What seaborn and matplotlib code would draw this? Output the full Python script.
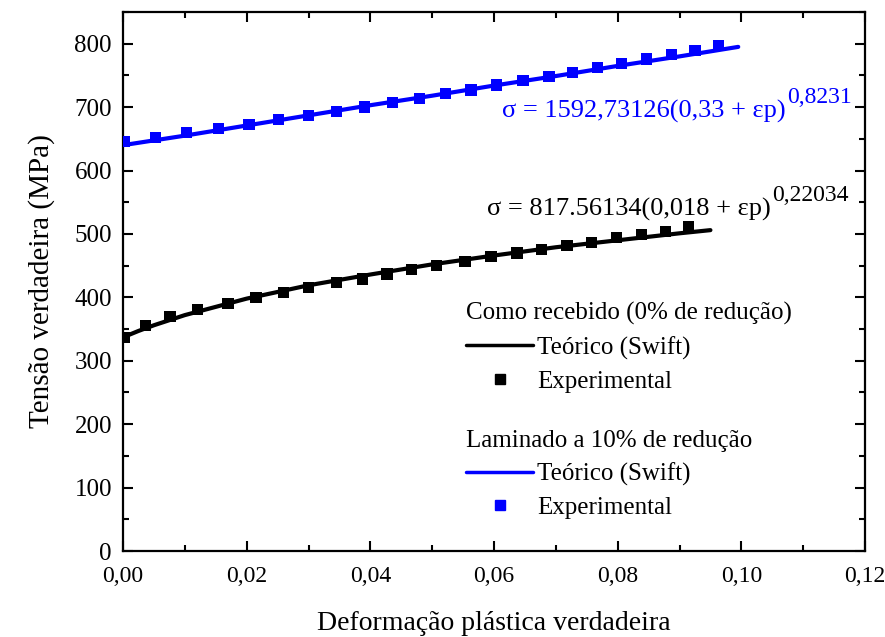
import matplotlib
matplotlib.use('Agg')
import matplotlib.pyplot as plt
import seaborn as sns
from matplotlib.lines import Line2D
from matplotlib.ticker import MultipleLocator, FuncFormatter

# ---- data ----
black_fit_x = [0.0, 0.0025, 0.005, 0.01, 0.015, 0.02, 0.03, 0.04, 0.05, 0.06, 0.07, 0.08, 0.09, 0.095]
black_fit_y = [337, 347, 356, 372, 385, 398, 419, 436, 452, 466, 479, 490, 501, 506]

black_exp_x = [0.0003, 0.0036, 0.0076, 0.0120, 0.0170, 0.0215, 0.0260, 0.0300, 0.0345, 0.0387,
               0.0427, 0.0467, 0.0507, 0.0553, 0.0595, 0.0637, 0.0677, 0.0718, 0.0758, 0.0798,
               0.0839, 0.0877, 0.0914]
black_exp_y = [337, 356, 370, 381, 390, 400, 408, 416, 423, 429,
               437, 444, 450, 457, 464, 470, 476, 482, 487, 494,
               499, 504, 511]

blue_fit_x = [0.0, 0.01, 0.02, 0.03, 0.04, 0.05, 0.06, 0.07, 0.08, 0.09, 0.0995]
blue_fit_y = [640, 655, 671, 687, 703, 718, 734, 749, 765, 780, 795]

blue_exp_x = [0.0003, 0.0052, 0.0103, 0.0154, 0.0204, 0.0252, 0.0300, 0.0345, 0.0391, 0.0436,
              0.0480, 0.0521, 0.0563, 0.0604, 0.0647, 0.0689, 0.0727, 0.0767, 0.0806, 0.0847,
              0.0887, 0.0925, 0.0963]
blue_exp_y = [646, 652, 660, 666, 673, 680, 687, 693, 700, 707,
              714, 721, 727, 735, 742, 748, 755, 762, 769, 776,
              783, 789, 797]

x_label = 'Deformação plástica verdadeira'
y_label = 'Tensão verdadeira (MPa)'
group1 = 'Como recebido (0% de redução)'
group2 = 'Laminado a 10% de redução'
lbl_fit = 'Teórico (Swift)'
lbl_exp = 'Experimental'
eq_black = 'σ = 817.56134(0,018 + εp)'
eq_black_exp = '0,22034'
eq_blue = 'σ = 1592,73126(0,33 + εp)'
eq_blue_exp = '0,8231'

BLUE = '#0000ff'

sns.set_theme(style='ticks')
plt.rcParams['font.family'] = ['Liberation Serif', 'DejaVu Serif']
plt.rcParams['axes.edgecolor'] = 'black'
plt.rcParams['text.color'] = 'black'
plt.rcParams['axes.labelcolor'] = 'black'

fig = plt.figure(figsize=(8.85, 6.37), dpi=100)
ax = fig.add_axes([123 / 885, 86 / 637, 742 / 885, 539 / 637])

sns.lineplot(x=black_fit_x, y=black_fit_y, color='black', lw=3, ax=ax, zorder=2)
sns.scatterplot(x=black_exp_x, y=black_exp_y, marker='s', s=66, color='black',
                edgecolor='none', ax=ax, zorder=3)
sns.lineplot(x=blue_fit_x, y=blue_fit_y, color=BLUE, lw=3, ax=ax, zorder=2)
sns.scatterplot(x=blue_exp_x, y=blue_exp_y, marker='s', s=66, color=BLUE,
                edgecolor='none', ax=ax, zorder=3)

ax.set_xlim(0, 0.12)
ax.set_ylim(0, 850)
ax.xaxis.set_major_locator(MultipleLocator(0.02))
ax.xaxis.set_minor_locator(MultipleLocator(0.01))
ax.yaxis.set_major_locator(MultipleLocator(100))
ax.yaxis.set_minor_locator(MultipleLocator(50))
ax.xaxis.set_major_formatter(FuncFormatter(lambda v, p: f"{v:.2f}".replace('.', ',')))
ax.yaxis.set_major_formatter(FuncFormatter(lambda v, p: f"{v:.0f}"))

for sp in ax.spines.values():
    sp.set_linewidth(1.6)
    sp.set_color('black')
ax.tick_params(which='both', direction='in', top=True, right=True, width=1.5,
               color='black', labelcolor='black', labelsize=18)
ax.tick_params(axis='x', labelsize=17)
ax.tick_params(which='major', length=7)
ax.tick_params(axis='x', which='major', pad=11)
ax.tick_params(axis='y', which='major', pad=8)
ax.tick_params(which='minor', length=4)

ax.set_xlabel(x_label, fontsize=20, labelpad=17, color='black')
ax.set_ylabel(y_label, fontsize=21, labelpad=14, color='black')

# equations
t1 = ax.text(0.0589, 529, eq_black, fontsize=19, ha='left', va='baseline', color='black')
ax.annotate(eq_black_exp, xy=(1.0, 0.86), xycoords=t1, xytext=(1, 0), textcoords='offset points',
            fontsize=17, ha='left', va='baseline', color='black')
t2 = ax.text(0.0613, 684, eq_blue, fontsize=19, ha='left', va='baseline', color=BLUE)
ax.annotate(eq_blue_exp, xy=(1.0, 0.86), xycoords=t2, xytext=(1, 0), textcoords='offset points',
            fontsize=17, ha='left', va='baseline', color=BLUE)

# legends
common = dict(loc='upper left', frameon=False, borderpad=0, borderaxespad=0,
              handlelength=2.7, handletextpad=0.15, labelspacing=0.42,
              fontsize=18, title_fontsize=18, alignment='left', labelcolor='black')
h1 = [Line2D([], [], color='black', lw=2.5),
      Line2D([], [], color='black', marker='s', ls='none', markersize=7)]
leg1 = ax.legend(h1, [lbl_fit, lbl_exp], title=group1,
                 bbox_to_anchor=(0.462, 0.462), **common)
leg1.get_title().set_color('black')
leg1._legend_box.sep = 8
ax.add_artist(leg1)
h2 = [Line2D([], [], color=BLUE, lw=2.5),
      Line2D([], [], color=BLUE, marker='s', ls='none', markersize=7)]
leg2 = ax.legend(h2, [lbl_fit, lbl_exp], title=group2,
                 bbox_to_anchor=(0.462, 0.225), **common)
leg2.get_title().set_color('black')
leg2._legend_box.sep = 8

fig.savefig('out.png', dpi=100)
